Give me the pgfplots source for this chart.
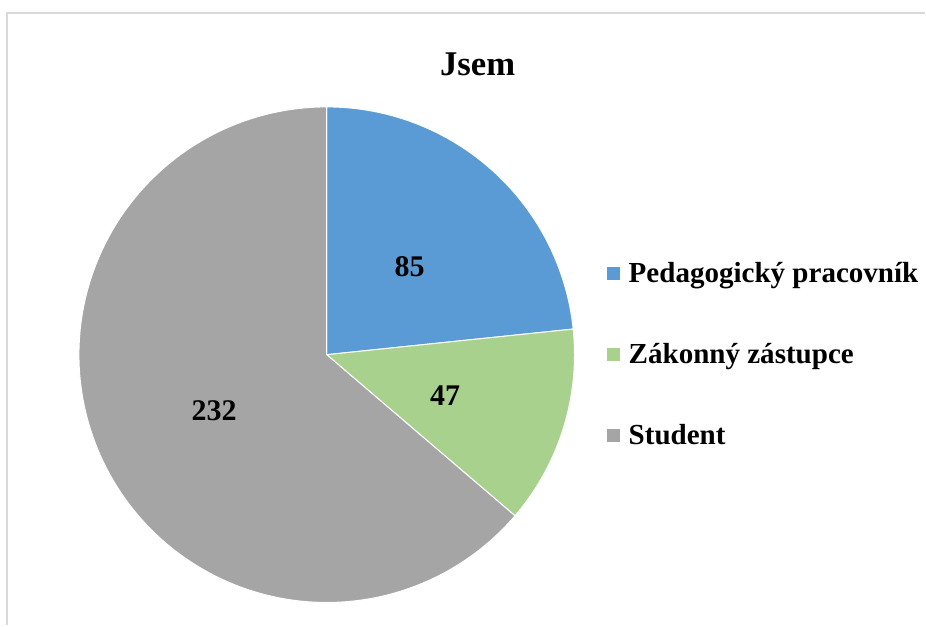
\documentclass[border=0pt]{standalone}
\usepackage{pgfplots}
\pgfplotsset{compat=1.18}
\usepackage{pgfplotstable}
\usepackage{fontspec}
\setmainfont{Liberation Serif}
\definecolor{cPed}{HTML}{5B9BD5}
\definecolor{cZak}{HTML}{A9D18E}
\definecolor{cStu}{HTML}{A5A5A5}
\definecolor{cFrame}{HTML}{D9D9D9}
\pgfplotstableread{
name value
Ped 85
Zak 47
Stu 232
}\piedata
\begin{document}
\begin{tikzpicture}
\pgfplotstablegetelem{0}{value}\of\piedata \let\vA\pgfplotsretval
\pgfplotstablegetelem{1}{value}\of\piedata \let\vB\pgfplotsretval
\pgfplotstablegetelem{2}{value}\of\piedata \let\vC\pgfplotsretval
\pgfmathsetmacro{\tot}{\vA+\vB+\vC}
\pgfmathsetmacro{\aA}{90}
\pgfmathsetmacro{\aB}{\aA-\vA/\tot*360}
\pgfmathsetmacro{\aC}{\aB-\vB/\tot*360}
\pgfmathsetmacro{\aD}{\aC-\vC/\tot*360}
\pgfmathsetmacro{\mA}{(\aA+\aB)/2}
\pgfmathsetmacro{\mB}{(\aB+\aC)/2}
\pgfmathsetmacro{\mC}{(\aC+\aD)/2}
\begin{axis}[
  width=694.5pt, height=469.5pt, scale only axis, hide axis,
  xmin=0, xmax=926, ymin=0, ymax=626, clip=false,
  legend image code/.code={\fill[#1] (0pt,-5.25pt) rectangle (10.5pt,5.25pt);},
  legend cell align=left,
  legend style={at={(axis cs:602,271)}, anchor=west, draw=none, fill=none,
    font=\bfseries\fontsize{21.8}{26}\selectfont, row sep=40pt,
    /tikz/every odd column/.append style={column sep=4pt}},
]
\path (axis cs:0,0) rectangle (axis cs:926,626);
\draw[cFrame, line width=1.2pt] (axis cs:6.8,0) |- (axis cs:926,613);
\addplot[fill=cPed, draw=white, line width=0.75pt, domain=\aB:\aA, samples=150]
  ({327+248*cos(x)},{271+248*sin(x)}) -- (axis cs:327,271) -- cycle;
\addplot[fill=cZak, draw=white, line width=0.75pt, domain=\aC:\aB, samples=100]
  ({327+248*cos(x)},{271+248*sin(x)}) -- (axis cs:327,271) -- cycle;
\addplot[fill=cStu, draw=white, line width=0.75pt, domain=\aD:\aC, samples=300]
  ({327+248*cos(x)},{271+248*sin(x)}) -- (axis cs:327,271) -- cycle;
\legend{Pedagogický pracovník, Zákonný zástupce, Student}
\node[font=\bfseries\fontsize{22.5}{27}\selectfont] at (axis cs:{327+124*cos(\mA)},{267+124*sin(\mA)}) {\vA};
\node[font=\bfseries\fontsize{22.5}{27}\selectfont] at (axis cs:{327+124*cos(\mB)},{267+124*sin(\mB)}) {\vB};
\node[font=\bfseries\fontsize{22.5}{27}\selectfont] at (axis cs:{327+124*cos(\mC)},{267+124*sin(\mC)}) {\vC};
\node[font=\bfseries\fontsize{26}{30}\selectfont] at (axis cs:478,562) {Jsem};
\end{axis}
\end{tikzpicture}
\end{document}
